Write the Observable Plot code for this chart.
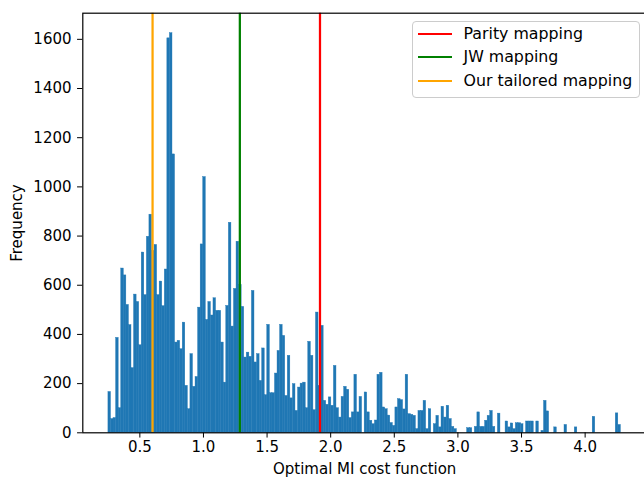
<!DOCTYPE html>
<html>
<head>
<meta charset="utf-8">
<script src="https://cdn.jsdelivr.net/npm/d3@7"></script>
<script src="https://cdn.jsdelivr.net/npm/@observablehq/plot@0.6"></script>
<style>
  html, body { margin: 0; padding: 0; background: #ffffff; }
  #chart { position: relative; width: 644px; height: 478px; overflow: hidden; font-family: "DejaVu Sans", sans-serif; }
  #legend {
    position: absolute; left: 411.5px; top: 20.5px; width: 226px; height: 75px;
    border: 1px solid #cccccc; border-radius: 4px; background: rgba(255,255,255,0.8);
    font-size: 15.8px; color: #000;
  }
  #legend .row { position: absolute; left: 0; height: 20px; }
  #legend .swatch { position: absolute; left: 5px; top: 9px; width: 34px; height: 2px; }
  #legend .name { position: absolute; left: 51px; white-space: nowrap; line-height: 20px; }
</style>
</head>
<body>
<div id="chart"><div id="legend"></div></div>
<script>
// Histogram of the optimal MI cost function: 200 equal-width bins
const binCount = 200;
const binRange = [0.253, 4.281];

// Frequency of each bin, left to right
const counts = [
  166, 56, 60, 386, 100, 668, 640, 520, 438, 263,
  562, 532, 356, 733, 560, 797, 887, 740, 764, 560,
  615, 515, 664, 1604, 1625, 1132, 367, 374, 340, 448,
  191, 96, 320, 187, 227, 509, 766, 1040, 459, 532,
  477, 547, 496, 496, 367, 204, 516, 854, 432, 585,
  777, 600, 512, 306, 326, 309, 577, 286, 320, 211,
  343, 153, 439, 161, 161, 241, 333, 439, 394, 150,
  313, 140, 198, 89, 184, 200, 204, 100, 370, 313,
  92, 489, 191, 435, 130, 114, 144, 110, 272, 100,
  62, 146, 187, 175, 60, 83, 236, 83, 146, 0,
  164, 83, 49, 35, 50, 236, 244, 103, 96, 70,
  40, 28, 103, 137, 133, 95, 236, 76, 73, 69,
  15, 89, 89, 130, 15, 96, 0, 35, 69, 22,
  106, 62, 110, 56, 24, 15, 0, 0, 0, 0,
  19, 19, 0, 24, 83, 24, 24, 49, 69, 89,
  24, 0, 78, 0, 0, 46, 22, 38, 15, 39,
  39, 35, 0, 46, 46, 46, 0, 46, 0, 8,
  130, 87, 0, 0, 22, 0, 0, 0, 32, 0,
  0, 0, 22, 0, 0, 0, 0, 0, 0, 65,
  0, 0, 0, 0, 0, 0, 0, 0, 79, 32
];

// Cost of each reference mapping
const mappingNames = ["Parity mapping", "JW mapping", "Our tailored mapping"];
const mappingCosts = [1.916, 1.286, 0.600];
const mappingColors = ["#ff0000", "#008000", "#ffa500"];

// Axis ticks
const xTicks = [0.5, 1.0, 1.5, 2.0, 2.5, 3.0, 3.5, 4.0];
const yTicks = [0, 200, 400, 600, 800, 1000, 1200, 1400, 1600];

const binWidth = (binRange[1] - binRange[0]) / binCount;
const bins = counts.map((count, i) => ({
  x1: binRange[0] + i * binWidth,
  x2: binRange[0] + (i + 1) * binWidth,
  count
}));
const mappings = mappingNames.map((name, i) => ({name, cost: mappingCosts[i], color: mappingColors[i]}));

// matplotlib-style 5% padding around the data
const xPad = (binRange[1] - binRange[0]) * 0.05;
const yMax = d3.max(counts) * 1.05;

const chart = Plot.plot({
  width: 646,
  height: 478,
  marginLeft: 82.3,
  marginRight: 0,
  marginTop: 12.7,
  marginBottom: 45.7,
  style: {fontFamily: "DejaVu Sans", fontSize: "15px", color: "#000", background: "#fff", maxWidth: "none"},
  x: {
    domain: [binRange[0] - xPad, binRange[1] + xPad],
    ticks: xTicks,
    tickFormat: d3.format(".1f"),
    tickSize: 5.25,
    tickPadding: 3,
    label: "Optimal MI cost function",
    labelAnchor: "center",
    labelArrow: "none",
    labelOffset: 41
  },
  y: {
    domain: [0, yMax],
    ticks: yTicks,
    tickFormat: d3.format("d"),
    tickSize: 5.25,
    tickPadding: 6,
    label: "Frequency",
    labelAnchor: "center",
    labelArrow: "none",
    labelOffset: 71
  },
  color: {type: "identity"},
  marks: [
    Plot.rectY(bins, {x1: "x1", x2: "x2", y: "count", fill: "#1f77b4", stroke: "#1f77b4", strokeWidth: 0.4, inset: 0}),
    Plot.ruleX(mappings, {x: "cost", stroke: "color", strokeWidth: 2.25}),
    Plot.frame({stroke: "#000", strokeWidth: 1.2})
  ]
});
document.getElementById("chart").prepend(chart);

// Legend box in the upper right
const legend = document.getElementById("legend");
mappings.forEach((m, i) => {
  const row = document.createElement("div");
  row.className = "row";
  row.style.top = (2 + i * 23.6) + "px";
  row.style.width = "100%";
  const sw = document.createElement("div");
  sw.className = "swatch";
  sw.style.background = m.color;
  const nm = document.createElement("div");
  nm.className = "name";
  nm.textContent = m.name;
  row.appendChild(sw);
  row.appendChild(nm);
  legend.appendChild(row);
});
</script>
</body>
</html>
